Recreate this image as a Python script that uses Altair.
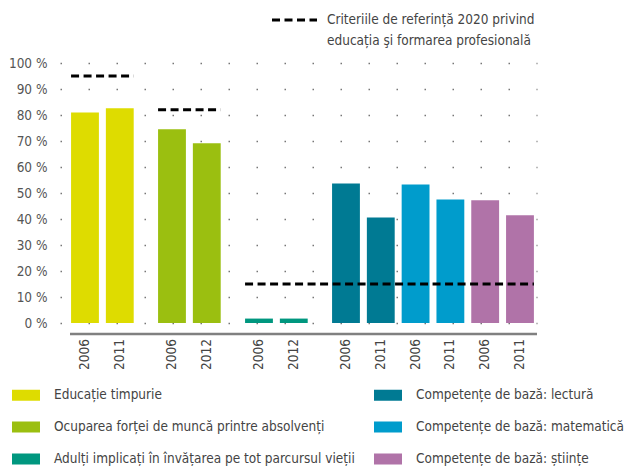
import altair as alt
import pandas as pd

# ---- data ----
categories = [
    "Educație timpurie",
    "Ocuparea forței de muncă printre absolvenți",
    "Adulți implicați în învățarea pe tot parcursul vieții",
    "Competențe de bază: lectură",
    "Competențe de bază: matematică",
    "Competențe de bază: științe",
]
colors = ["#dedc00", "#9bbf10", "#00977f", "#007a93", "#009ccc", "#b073a8"]
clusters = [0, 1, 2, 3, 3, 3]
bar_category = [0, 0, 1, 1, 2, 2, 3, 3, 4, 4, 5, 5]
years = ["2006", "2011", "2006", "2012", "2006", "2012",
         "2006", "2011", "2006", "2011", "2006", "2011"]
values = [81.0, 82.6, 74.5, 69.1, 1.7, 1.7, 53.7, 40.6, 53.3, 47.5, 47.2, 41.4]
bench_values = [95, 82, 15]
bench_first = [0, 2, 4]
bench_last = [1, 3, 11]
y_ticks = [0, 10, 20, 30, 40, 50, 60, 70, 80, 90, 100]
benchmark_label = ["Criteriile de referință 2020 privind",
                   "educația şi formarea profesională"]

# ---- layout helpers ----
GAP = 0.5
HALF = 0.4
pos = [i + GAP * clusters[c] for i, c in enumerate(bar_category)]
bars_df = pd.DataFrame({
    "cat": [categories[c] for c in bar_category],
    "year": years,
    "value": values,
    "pos": pos,
})
bench_df = pd.DataFrame({
    "value": bench_values,
    "x0": [pos[i] - HALF for i in bench_first],
    "x1": [pos[i] + HALF for i in bench_last],
})
one = pd.DataFrame({"a": [0]})

W, H = 477, 260
FONT = "DejaVu Sans Condensed, Roboto, sans-serif"
TXT = "#444444"
FS = 13.5

xscale = alt.Scale(domain=[-0.718, 12.989], nice=False, zero=False)
yscale = alt.Scale(domain=[0, 100], nice=False)
yaxis = alt.Axis(values=y_ticks, labelExpr="datum.value + ' %'", domain=False,
                 ticks=False, grid=True, gridDash=[1.5, 26.5], gridColor="#777777",
                 gridWidth=1.5, labelPadding=13, labelFont=FONT, labelFontSize=FS,
                 labelColor="#555555", title=None)

bars = alt.Chart(bars_df).transform_calculate(
    x0=f"datum.pos - {HALF}", x1=f"datum.pos + {HALF}"
).mark_bar().encode(
    x=alt.X("x0:Q", scale=xscale, axis=None),
    x2="x1:Q",
    y=alt.Y("value:Q", scale=yscale, axis=yaxis),
    y2=alt.datum(0),
    color=alt.Color("cat:N", scale=alt.Scale(domain=categories, range=colors),
                    legend=alt.Legend(orient="none", legendX=-48, legendY=318,
                                      columns=2,
                                      symbolType="M-1,-0.393H1V0.393H-1Z",
                                      symbolSize=784, symbolStrokeWidth=0,
                                      symbolOpacity=1, labelFont=FONT,
                                      labelFontSize=FS, labelColor=TXT,
                                      labelOffset=14, rowPadding=11,
                                      columnPadding=19, title=None, padding=0,
                                      labelLimit=400)),
)

bench = alt.Chart(bench_df).mark_rule(color="black", strokeWidth=3,
                                      strokeDash=[8, 4.5]).encode(
    x=alt.X("x0:Q", scale=xscale, axis=None),
    x2="x1:Q",
    y=alt.Y("value:Q", scale=yscale, axis=yaxis),
)

year_labels = alt.Chart(bars_df).mark_text(
    angle=270, align="right", baseline="middle", font=FONT, fontSize=FS,
    color=TXT,
).encode(
    x=alt.X("pos:Q", scale=xscale, axis=None),
    y=alt.value(H + 16),
    text="year:N",
)

axis_line = alt.Chart(one).mark_rule(color="#808080", strokeWidth=2.5).encode(
    x=alt.value(10), x2=alt.value(W), y=alt.value(H + 11)
)

bench_key = alt.Chart(one).mark_rule(color="black", strokeWidth=3,
                                     strokeDash=[8, 4.5]).encode(
    x=alt.value(212), x2=alt.value(257), y=alt.value(-43)
)
bench_text = alt.Chart(one).mark_text(
    align="left", baseline="middle", lineHeight=21, font=FONT, fontSize=FS,
    color=TXT,
).encode(x=alt.value(267), y=alt.value(-43), text=alt.value(benchmark_label))

chart = alt.layer(bars, bench, year_labels, axis_line, bench_key, bench_text).properties(
    width=W, height=H, autosize="none",
    padding={"left": 60, "top": 63, "right": 94, "bottom": 143},
).configure_view(stroke=None)

chart.save("out.html", embed_options={"renderer": "svg", "actions": False})
